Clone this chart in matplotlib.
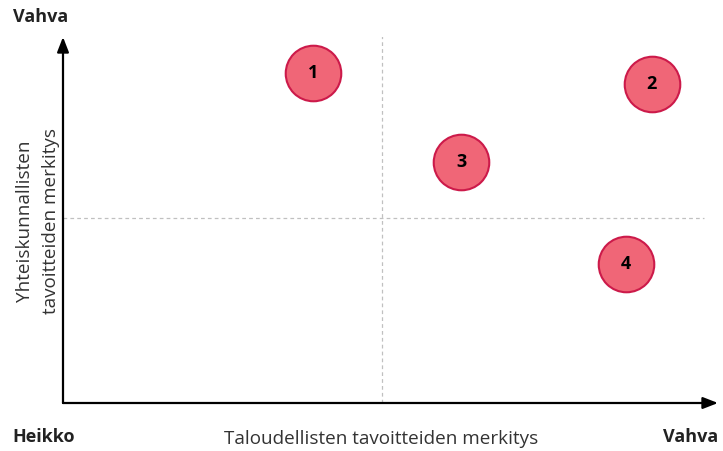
import matplotlib.pyplot as plt

# quadrant chart data (0-10 scale on both axes)
labels = ["1", "2", "3", "4"]
economic = [3.82, 8.99, 6.08, 8.59]
societal = [9.02, 8.72, 6.58, 3.80]
mid_x = 4.87
mid_y = 5.06
hline_end = 9.79

x_label = "Taloudellisten tavoitteiden merkitys"
y_label = "Yhteiskunnallisten\ntavoitteiden merkitys"
strong = "Vahva"
weak = "Heikko"

W, H = 723, 451
fig = plt.figure(figsize=(W / 100, H / 100), dpi=100)
ax = fig.add_axes([63 / W, (H - 403) / H, (718 - 63) / W, (403 - 37) / H])
ax.set_xlim(0, 10)
ax.set_ylim(0, 10)
ax.axis("off")

font = ["Open Sans", "DejaVu Sans"]

# midlines
ax.plot([mid_x, mid_x], [0, 10.05], color="#c0c0c0", lw=0.9, ls=(0, (3, 2.5)), zorder=1)
ax.plot([0, hline_end], [mid_y, mid_y], color="#c0c0c0", lw=0.9, ls=(0, (3, 2.5)), zorder=1)

# axis arrows
arrow = dict(arrowstyle="-|>,head_length=0.9,head_width=0.35", color="black", lw=1.6,
             shrinkA=0, shrinkB=0)
ax.annotate("", xy=(0, 1.0), xytext=(0, 0), xycoords="axes fraction", arrowprops=arrow)
ax.annotate("", xy=(1.0, 0), xytext=(0, 0), xycoords="axes fraction", arrowprops=arrow)

ax.scatter(economic, societal, s=1600, color="#f06677", edgecolor="#cc1a4a",
           linewidth=1.5, zorder=3, clip_on=False)
for lab, xv, yv in zip(labels, economic, societal):
    ax.text(xv, yv, lab, ha="center", va="center", fontsize=13, fontweight="bold",
            family=font, zorder=4)

fig.text(41 / W, 1 - 17 / H, strong, ha="center", va="center", fontsize=13,
         fontweight="bold", family=font, color="#222222")
fig.text(44 / W, 1 - 437 / H, weak, ha="center", va="center", fontsize=13,
         fontweight="bold", family=font, color="#222222")
fig.text(691 / W, 1 - 437 / H, strong, ha="center", va="center", fontsize=13,
         fontweight="bold", family=font, color="#222222")
fig.text(381 / W, 1 - 439 / H, x_label, ha="center", va="center", fontsize=13.6,
         family=font, color="#333333")
fig.text(38 / W, 1 - 221 / H, y_label, ha="center", va="center", fontsize=13.6,
         family=font, color="#333333", rotation=90, linespacing=1.55)

fig.savefig("out.png", dpi=100)
